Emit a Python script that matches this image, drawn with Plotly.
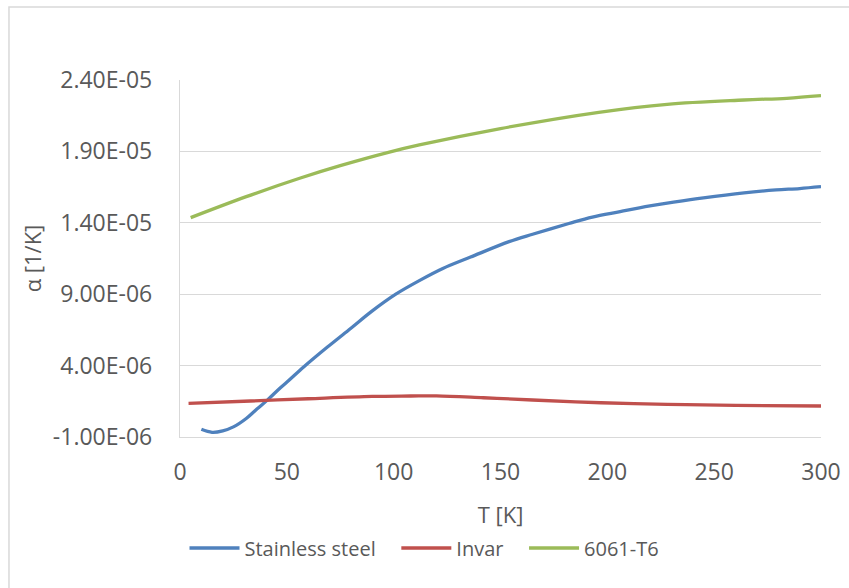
import plotly.graph_objects as go

# Stainless steel
ss_T = [10, 15, 20, 25, 31, 36, 41, 47, 51, 58, 69, 80, 90, 101, 112, 123, 136, 154, 165, 182, 193, 206, 215, 231, 245, 264, 279, 290, 300]
ss_a = [-4.6e-7, -6.7e-7, -5.7e-7, -2.9e-7, 3.0e-7, 9.6e-7, 1.6e-6, 2.45e-6, 2.97e-6, 3.92e-6, 5.3e-6, 6.62e-6, 7.83e-6, 9.0e-6, 9.95e-6, 1.08e-5, 1.16e-5, 1.268e-5, 1.32e-5, 1.395e-5, 1.44e-5, 1.478e-5, 1.505e-5, 1.544e-5, 1.575e-5, 1.61e-5, 1.63e-5, 1.64e-5, 1.653e-5]

# Invar
inv_T = [4, 33, 60, 90, 108, 120, 142, 165, 197, 228, 260, 300]
inv_a = [1.36e-6, 1.52e-6, 1.68e-6, 1.84e-6, 1.87e-6, 1.88e-6, 1.75e-6, 1.59e-6, 1.40e-6, 1.29e-6, 1.21e-6, 1.17e-6]

# 6061-T6
al_T = [5, 31, 56, 75, 98, 112, 150, 196, 228, 264, 284, 300]
al_a = [1.436e-5, 1.583e-5, 1.712e-5, 1.80e-5, 1.895e-5, 1.945e-5, 2.06e-5, 2.174e-5, 2.23e-5, 2.26e-5, 2.272e-5, 2.29e-5]

x_ticks = [0, 50, 100, 150, 200, 250, 300]
y_ticks = [-1.0e-6, 4.0e-6, 9.0e-6, 1.4e-5, 1.9e-5, 2.4e-5]
y_labels = ["-1.00E-06", "4.00E-06", "9.00E-06", "1.40E-05", "1.90E-05", "2.40E-05"]
series_names = ["Stainless steel\u00a0\u00a0\u00a0", "Invar\u00a0\u00a0\u00a0", "6061-T6"]

FONT = "'Open Sans', 'Liberation Sans', sans-serif"
TXT = "#595959"

fig = go.Figure()
fig.add_trace(go.Scatter(x=ss_T, y=ss_a, mode="lines", name=series_names[0],
                         line=dict(color="#4F81BD", width=3.3, shape="spline")))
fig.add_trace(go.Scatter(x=inv_T, y=inv_a, mode="lines", name=series_names[1],
                         line=dict(color="#C0504D", width=3.3, shape="spline")))
fig.add_trace(go.Scatter(x=al_T, y=al_a, mode="lines", name=series_names[2],
                         line=dict(color="#9BBB59", width=3.3, shape="spline")))

fig.update_layout(
    width=849, height=588,
    margin=dict(l=180, r=28, t=80, b=151, autoexpand=False),
    paper_bgcolor="white", plot_bgcolor="white",
    font=dict(family=FONT, color=TXT, size=20),
    showlegend=True,
    legend=dict(orientation="h", xref="container", yref="container",
                x=0.5, xanchor="center", y=0.068, yanchor="middle",
                font=dict(size=20, color=TXT, family=FONT),
                itemwidth=50, tracegroupgap=0),
    shapes=[dict(type="rect", xref="paper", yref="paper",
                 x0=-0.2668, x1=1.3, y0=-0.7, y1=1.2045,
                 line=dict(color="#d9d9d9", width=1.5), fillcolor="rgba(0,0,0,0)",
                 layer="below")],
)

fig.update_xaxes(range=[0, 300], tickvals=x_ticks, ticktext=[str(v) for v in x_ticks],
                 showgrid=False, showline=True, linecolor="#d9d9d9", linewidth=1.3,
                 zeroline=False, ticks="", ticklabelstandoff=14, automargin=False,
                 tickfont=dict(size=23, color=TXT, family=FONT),
                 title=dict(text="T [K]", font=dict(size=22, color=TXT, family=FONT), standoff=27))
fig.update_yaxes(range=[-1.0e-6, 2.4e-5], tickvals=y_ticks, ticktext=y_labels,
                 showgrid=True, gridcolor="#d9d9d9", gridwidth=1.3,
                 showline=True, linecolor="#d9d9d9", linewidth=1.3,
                 zeroline=False, ticks="", ticklabelstandoff=22, automargin=False,
                 tickfont=dict(size=23, color=TXT, family=FONT),
                 title=dict(text="α [1/K]", font=dict(size=22, color=TXT, family=FONT), standoff=5))

fig.write_html("out.html")
